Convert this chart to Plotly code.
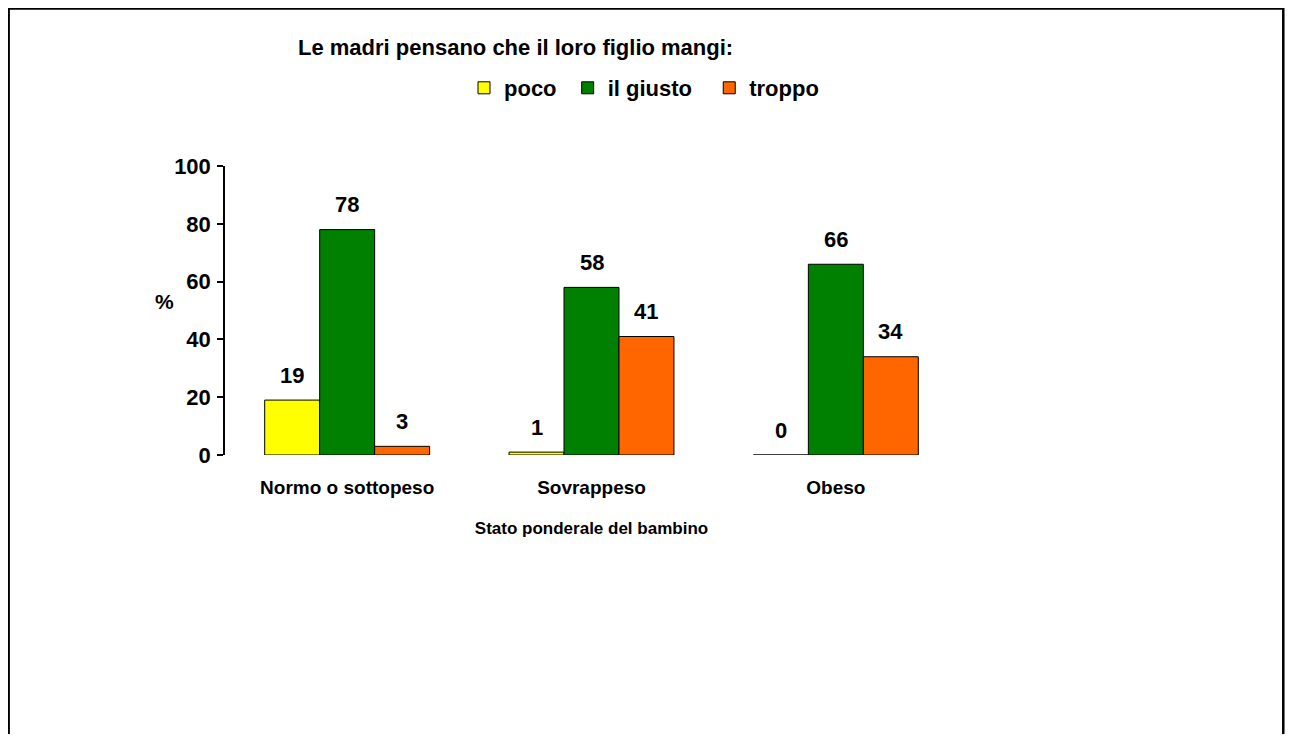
import plotly.graph_objects as go

# data
categories = ["Normo o sottopeso", "Sovrappeso", "Obeso"]
series_names = ["poco", "il giusto", "troppo"]
poco = [19, 1, 0]
giusto = [78, 58, 66]
troppo = [3, 41, 34]
y_ticks = [0, 20, 40, 60, 80, 100]

COLORS = ["#FFFF00", "#008000", "#FF6600"]
FONT = "Liberation Sans, Arial, sans-serif"
# page body has an 8px margin, so the figure is drawn 8px in from the window
W, H = 1277, 726
L, T = 217, 158
R, B = W - 950.5, H - 447
BARGAP = 0.325
BOLD = "bold"

fig = go.Figure()
all_series = [poco, giusto, troppo]
# trailing spaces widen the legend entries a little, as in the original
legend_names = ["poco\u00a0", "il giusto\u00a0\u00a0", "troppo"]
for name, vals, col in zip(legend_names, all_series, COLORS):
    fig.add_trace(go.Bar(
        x=list(range(len(categories))), y=vals, name=name,
        marker=dict(color=col, line=dict(color="black", width=1)),
        hoverinfo="skip",
    ))

# data labels above bars, at the grouped-bar offsets
bw = (1 - BARGAP) / len(all_series)
for i, vals in enumerate(all_series):
    for j, v in enumerate(vals):
        fig.add_annotation(
            x=j + (i - 1) * bw, y=v, xref="x", yref="y",
            text=str(v), showarrow=False, yanchor="middle", yshift=25,
            font=dict(size=22, family=FONT, color="black", weight=BOLD),
        )

pw, ph = W - L - R, H - T - B

# "%" label
fig.add_annotation(
    x=(156 - L) / pw, y=53, xref="paper", yref="y",
    text="%", showarrow=False, xanchor="center", yanchor="middle",
    font=dict(size=21, family=FONT, color="black", weight=BOLD),
)

# outer frame
fig.add_shape(
    type="rect", xref="paper", yref="paper",
    x0=(0.5 - L) / pw, x1=(W - 1 - L) / pw,
    y0=(H - 760 - B) / ph, y1=(H - 0.5 - B) / ph,
    line=dict(color="black", width=2.5), fillcolor="rgba(0,0,0,0)",
)

fig.update_layout(
    width=W, height=H,
    margin=dict(l=L, r=R, t=T, b=B, pad=0),
    paper_bgcolor="white", plot_bgcolor="white",
    barmode="group", bargap=BARGAP, bargroupgap=0,
    font=dict(family=FONT, color="black", weight=BOLD),
    title=dict(
        text="Le madri pensano che il loro figlio mangi:",
        x=290 / W, xref="container", xanchor="left",
        y=1 - 39 / H, yref="container", yanchor="middle",
        font=dict(size=22, family=FONT, color="black", weight=BOLD),
    ),
    legend=dict(
        orientation="h", x=456 / W, xref="container", xanchor="left",
        y=1 - 80 / H, yref="container", yanchor="middle",
        font=dict(size=22, family=FONT, color="black", weight=BOLD),
        bgcolor="rgba(0,0,0,0)", itemwidth=30,
    ),
    showlegend=True,
)
fig.update_xaxes(
    range=[-0.5, 2.5], tickvals=list(range(len(categories))), ticktext=categories,
    showline=False, showgrid=False, zeroline=False, ticks="",
    tickfont=dict(size=19, family=FONT, color="black", weight=BOLD),
    ticklabelstandoff=19,
    title=dict(text="Stato ponderale del bambino", standoff=25,
               font=dict(size=17, family=FONT, color="black", weight=BOLD)),
)
fig.update_yaxes(
    range=[0, 100], tickvals=y_ticks, showgrid=False, zeroline=False,
    showline=True, linecolor="black", linewidth=1.5,
    ticks="outside", ticklen=6, tickcolor="black", tickwidth=1.5,
    tickfont=dict(size=22, family=FONT, color="black", weight=BOLD),
    ticklabelstandoff=2,
)

fig.write_html("out.html")
